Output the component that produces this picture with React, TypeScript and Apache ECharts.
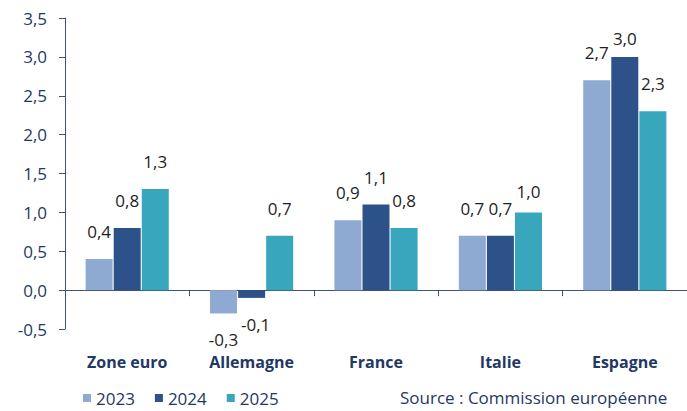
import React, { useEffect, useRef } from "react";
import * as echarts from "echarts";

const categories = ["Zone euro", "Allemagne", "France", "Italie", "Espagne"];
const seriesNames = ["2023", "2024", "2025"];
const values2023 = [0.4, -0.3, 0.9, 0.7, 2.7];
const values2024 = [0.8, -0.1, 1.1, 0.7, 3.0];
const values2025 = [1.3, 0.7, 0.8, 1.0, 2.3];
const yTicks = [-0.5, 0.0, 0.5, 1.0, 1.5, 2.0, 2.5, 3.0, 3.5];
const sourceText = "Source : Commission européenne";

const colors = ["#8eaad3", "#2d5189", "#38a6bd"];
const navy = "#1f3864";
const axisColor = "#3f5279";
const FONT = "'Open Sans', 'Liberation Sans', sans-serif";

// label distance tweaks (series index -> category index -> distance)
const distanceTweaks: Record<string, number> = { "1-4": 10, "2-3": 12 };

const fmt = (v: number) => v.toFixed(1).replace(".", ",");

export default function App() {
  const ref = useRef<HTMLDivElement>(null);
  useEffect(() => {
    document.body.style.margin = "0";
    if (!ref.current) return;
    const chart = echarts.init(ref.current, undefined, { renderer: "svg" });
    const all = [values2023, values2024, values2025];
    const series = all.map((vals, si) => ({
      name: seriesNames[si],
      type: "bar",
      xAxisIndex: 0,
      barWidth: 27,
      barGap: "4%",
      itemStyle: { color: colors[si] },
      label: {
        show: true,
        position: "top",
        distance: 19,
        fontFamily: FONT,
        fontSize: 17,
        color: "#1e1e1e",
        formatter: (p: any) => fmt(p.value),
      },
      data: vals.map((v, ci) => {
        const d = distanceTweaks[`${si}-${ci}`];
        if (v < 0) {
          return {
            value: v,
            label: { position: "bottom", distance: 18, offset: si === 1 ? [4, 0] : [0, 0] },
          };
        }
        if (d !== undefined) return { value: v, label: { distance: d } };
        return v;
      }),
    }));

    chart.setOption({
      animation: false,
      backgroundColor: "#ffffff",
      grid: { left: 65, top: 18, width: 635, height: 311 },
      legend: {
        left: 83,
        top: 389,
        padding: 0,
        icon: "rect",
        itemWidth: 8,
        itemHeight: 8,
        itemGap: 20,
        textStyle: { fontFamily: FONT, fontSize: 17, lineHeight: 18, color: navy },
        data: seriesNames,
      },
      xAxis: [
        {
          type: "category",
          data: categories,
          position: "bottom",
          axisLine: { show: false, onZero: false },
          axisTick: { show: false },
          axisLabel: {
            margin: 25,
            fontFamily: FONT,
            fontSize: 16,
            fontWeight: "bold",
            color: navy,
          },
        },
        {
          type: "category",
          data: categories,
          position: "bottom",
          axisLine: { show: true, onZero: true, lineStyle: { color: axisColor, width: 1 } },
          axisTick: { show: true, inside: false, length: 6, lineStyle: { color: axisColor } },
          axisLabel: { show: false },
        },
      ],
      yAxis: {
        type: "value",
        min: yTicks[0],
        max: yTicks[yTicks.length - 1],
        interval: 0.5,
        splitLine: { show: false },
        axisLine: { show: true, lineStyle: { color: axisColor, width: 1 } },
        axisTick: { show: true, length: 6, lineStyle: { color: axisColor } },
        axisLabel: {
          margin: 18,
          fontFamily: FONT,
          fontSize: 17,
          color: navy,
          formatter: (v: number) => fmt(v),
        },
      },
      graphic: [
        {
          type: "text",
          left: 400,
          top: 389,
          style: {
            text: sourceText,
            fontFamily: FONT,
            fontSize: 17,
            fill: navy,
          },
        },
      ],
      series,
    });
    return () => chart.dispose();
  }, []);
  return <div ref={ref} style={{ width: 687, height: 411 }} />;
}
